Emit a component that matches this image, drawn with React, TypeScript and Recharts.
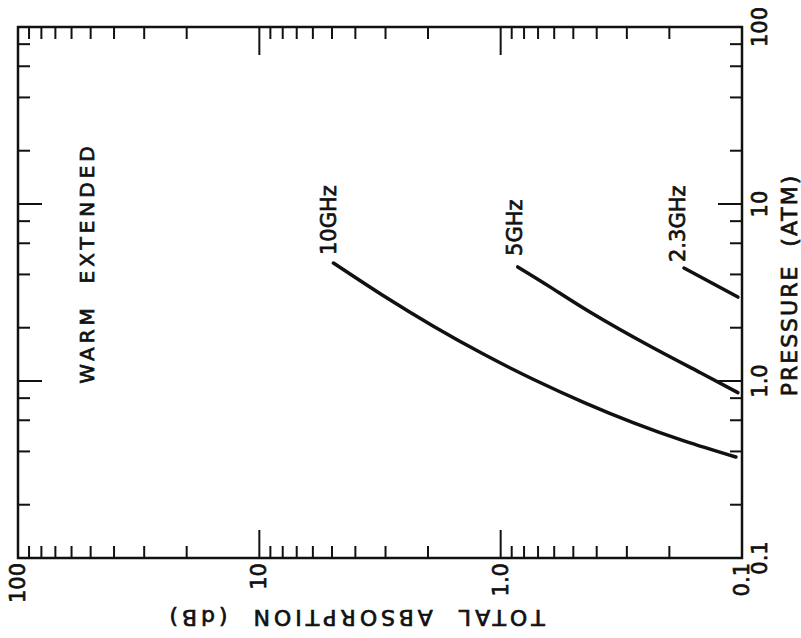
import React from "react";
import {
  LineChart,
  Line,
  XAxis,
  YAxis,
  ReferenceArea,
  ReferenceDot,
  Customized,
} from "recharts";

// absorption (dB) vs pressure (atm), drawn rotated like the scanned plate
const GHZ10 = [
  { a: 4.93, p: 4.64 },
  { a: 3.06, p: 3.03 },
  { a: 1.9, p: 2.04 },
  { a: 1.18, p: 1.42 },
  { a: 0.73, p: 1.02 },
  { a: 0.453, p: 0.758 },
  { a: 0.281, p: 0.58 },
  { a: 0.174, p: 0.459 },
  { a: 0.106, p: 0.372 },
];
const GHZ5 = [
  { a: 0.85, p: 4.41 },
  { a: 0.62, p: 3.38 },
  { a: 0.42, p: 2.42 },
  { a: 0.24, p: 1.57 },
  { a: 0.148, p: 1.11 },
  { a: 0.104, p: 0.86 },
];
const GHZ23 = [
  { a: 0.174, p: 4.35 },
  { a: 0.104, p: 2.98 },
];

const ABSORPTION_TICKS = [
  0.1, 0.2, 0.3, 0.4, 0.5, 0.6, 0.7, 0.8, 0.9, 1, 2, 3, 4, 5, 6, 7, 8, 9, 10,
  20, 30, 40, 50, 60, 70, 80, 90, 100,
];
const PRESSURE_TICKS = [
  0.1, 0.2, 0.4, 0.6, 0.8, 1, 2, 4, 6, 8, 10, 20, 40, 60, 80, 100,
];
const MAJOR_VALUES = [0.1, 1, 10, 100];
const MAJOR_LABELS = ["0.1", "1.0", "10", "100"];

const W = 801;
const H = 638;
const PL = 18;
const PT = 27;
const PR = 742;
const PB = 558;
const INK = "#111";
const FONT = "'DejaVu Sans', sans-serif";
// thicken the glyphs a little, the plate is hand lettered
const TEXT_STYLE = {
  fontFamily: FONT,
  fill: INK,
  stroke: INK,
  strokeWidth: 0.7,
};

function AbsorptionTick(props: any) {
  const { x, payload } = props;
  const i = MAJOR_VALUES.indexOf(payload.value);
  const len = i >= 0 ? 28 : 12;
  return (
    <g>
      <line x1={x} y1={PB} x2={x} y2={PB - len} stroke={INK} strokeWidth={2} />
      <line x1={x} y1={PT} x2={x} y2={PT + len} stroke={INK} strokeWidth={2} />
      {i >= 0 && (
        <text
          x={x}
          y={PB + 5}
          transform={`rotate(-90 ${x} ${PB + 5})`}
          textAnchor="end"
          dominantBaseline="central"
          fontSize={21}
          {...TEXT_STYLE}
        >
          {MAJOR_LABELS[i]}
        </text>
      )}
    </g>
  );
}

function PressureTick(props: any) {
  const { y, payload } = props;
  const i = MAJOR_VALUES.indexOf(payload.value);
  const len = i >= 0 ? 24 : 12;
  return (
    <g>
      <line x1={PR} y1={y} x2={PR - len} y2={y} stroke={INK} strokeWidth={2} />
      <line x1={PL} y1={y} x2={PL + len} y2={y} stroke={INK} strokeWidth={2} />
      {i >= 0 && (
        <text
          x={760}
          y={y}
          transform={`rotate(-90 760 ${y})`}
          textAnchor="middle"
          dominantBaseline="central"
          fontSize={21}
          {...TEXT_STYLE}
        >
          {MAJOR_LABELS[i]}
        </text>
      )}
    </g>
  );
}

function CurveLabel(text: string, dx: number, dy: number) {
  return (props: any) => {
    const { viewBox } = props;
    const cx = viewBox.x + viewBox.width / 2 + dx;
    const cy = viewBox.y + viewBox.height / 2 + dy;
    return (
      <text
        x={cx}
        y={cy}
        transform={`rotate(-90 ${cx} ${cy})`}
        textAnchor="start"
        dominantBaseline="central"
        fontSize={21}
        {...TEXT_STYLE}
      >
        {text}
      </text>
    );
  };
}

function Titles() {
  return (
    <g>
      <text
        x={87}
        y={263}
        transform="rotate(-90 87 263)"
        textAnchor="middle"
        dominantBaseline="central"
        fontSize={20}
        letterSpacing={4}
        style={{ whiteSpace: "pre" }}
        {...TEXT_STYLE}
      >
        {"WARM  EXTENDED"}
      </text>
      <text
        x={789}
        y={285}
        transform="rotate(-90 789 285)"
        textAnchor="middle"
        dominantBaseline="central"
        fontSize={22}
        letterSpacing={2}
        style={{ whiteSpace: "pre" }}
        {...TEXT_STYLE}
      >
        {"PRESSURE  (ATM)"}
      </text>
      <text
        x={355}
        y={617}
        transform="rotate(180 355 617)"
        textAnchor="middle"
        dominantBaseline="central"
        fontSize={22}
        letterSpacing={4}
        style={{ whiteSpace: "pre" }}
        {...TEXT_STYLE}
      >
        {"TOTAL  ABSORPTION  (dB)"}
      </text>
    </g>
  );
}

export default function App() {
  return (
    <div style={{ position: "absolute", left: 0, top: 0, background: "#fff" }}>
      <LineChart
        width={W}
        height={H}
        margin={{ top: PT, right: W - PR - 40, bottom: H - PB - 40, left: PL }}
      >
        <XAxis
          xAxisId="a"
          dataKey="a"
          type="number"
          scale="log"
          domain={[0.1, 100]}
          reversed
          allowDataOverflow
          ticks={ABSORPTION_TICKS}
          interval={0}
          height={40}
          axisLine={false}
          tickLine={false}
          tick={<AbsorptionTick />}
        />
        <YAxis
          yAxisId="p"
          dataKey="p"
          type="number"
          scale="log"
          orientation="right"
          domain={[0.1, 100]}
          allowDataOverflow
          ticks={PRESSURE_TICKS}
          interval={0}
          width={40}
          axisLine={false}
          tickLine={false}
          tick={<PressureTick />}
        />
        <ReferenceArea
          xAxisId="a"
          yAxisId="p"
          x1={100}
          x2={0.1}
          y1={0.1}
          y2={100}
          fill="none"
          stroke={INK}
          strokeWidth={2.5}
          ifOverflow="visible"
        />
        <Line
          xAxisId="a"
          yAxisId="p"
          data={GHZ10}
          dataKey="p"
          type="natural"
          stroke={INK}
          strokeWidth={3.5}
          strokeLinecap="round"
          dot={false}
          isAnimationActive={false}
        />
        <Line
          xAxisId="a"
          yAxisId="p"
          data={GHZ5}
          dataKey="p"
          type="natural"
          stroke={INK}
          strokeWidth={3.5}
          strokeLinecap="round"
          dot={false}
          isAnimationActive={false}
        />
        <Line
          xAxisId="a"
          yAxisId="p"
          data={GHZ23}
          dataKey="p"
          type="linear"
          stroke={INK}
          strokeWidth={3.5}
          strokeLinecap="round"
          dot={false}
          isAnimationActive={false}
        />
        <ReferenceDot
          xAxisId="a"
          yAxisId="p"
          x={GHZ10[0].a}
          y={GHZ10[0].p}
          r={0}
          stroke="none"
          label={{ content: CurveLabel("10GHz", -4, -8) }}
        />
        <ReferenceDot
          xAxisId="a"
          yAxisId="p"
          x={GHZ5[0].a}
          y={GHZ5[0].p}
          r={0}
          stroke="none"
          label={{ content: CurveLabel("5GHz", -3, -11) }}
        />
        <ReferenceDot
          xAxisId="a"
          yAxisId="p"
          x={GHZ23[0].a}
          y={GHZ23[0].p}
          r={0}
          stroke="none"
          label={{ content: CurveLabel("2.3GHz", -6, -6) }}
        />
        <Customized component={Titles} />
      </LineChart>
    </div>
  );
}
